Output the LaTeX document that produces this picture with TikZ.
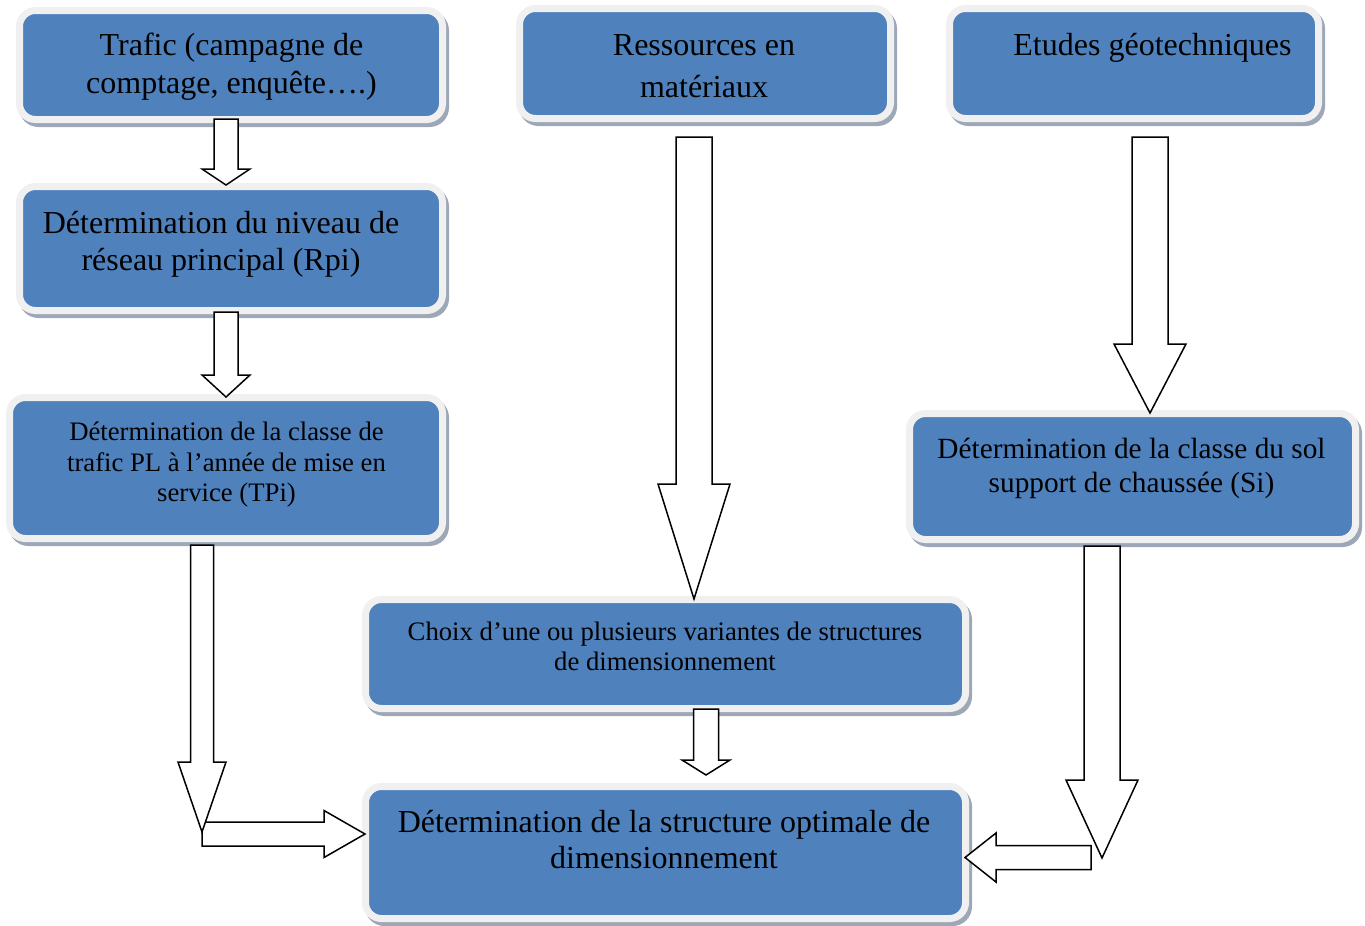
\documentclass[tikz,border=0pt]{standalone}
\usepackage{fontspec}
\setmainfont{Liberation Serif}
\usetikzlibrary{calc}
\definecolor{boxblue}{RGB}{79,129,189}
\definecolor{boxrim}{RGB}{240,240,240}
\definecolor{boxshadow}{RGB}{158,167,184}
\tikzset{
  box/.style={rectangle, rounded corners=16pt, fill=boxblue, draw=boxrim, line width=7pt, inner sep=0pt,
    preaction={draw=boxshadow, fill=boxshadow, line width=7pt, transform canvas={shift={(3pt,-4pt)}}}},
  blockarr/.style={draw=black, fill=white, line width=1.5pt, line join=miter},
  bigtxt/.style={font=\fontsize{32}{37}\selectfont, anchor=base, inner sep=0pt},
  midtxt/.style={font=\fontsize{29.3}{34}\selectfont, anchor=base, inner sep=0pt},
  smalltxt/.style={font=\fontsize{26.7}{31}\selectfont, anchor=base, inner sep=0pt}
}
\newcommand\vblockarrow[5]{% tail, tip, shaft half width, head half width, head length
  \draw[blockarr] let \p1=(#1), \p2=(#2) in
    ({\x2-#3},{\y1}) -- ({\x2+#3},{\y1}) -- ({\x2+#3},{\y2+#5}) -- ({\x2+#4},{\y2+#5}) -- (\x2,\y2)
    -- ({\x2-#4},{\y2+#5}) -- ({\x2-#3},{\y2+#5}) -- cycle;}
\newcommand\hblockarrow[5]{% tail, tip, shaft half width, head half width, signed head length
  \draw[blockarr] let \p1=(#1), \p2=(#2) in
    ({\x1},{\y2+#3}) -- ({\x2-#5},{\y2+#3}) -- ({\x2-#5},{\y2+#4}) -- (\x2,\y2)
    -- ({\x2-#5},{\y2-#4}) -- ({\x2-#5},{\y2-#3}) -- ({\x1},{\y2-#3}) -- cycle;}
\begin{document}
\begin{tikzpicture}[x=1pt,y=-1pt]
\useasboundingbox (0,0) rectangle (1365,926);
% boxes
\node[box, minimum width=423pt, minimum height=109pt] (trafic) at (231,65) {};
\node[box, minimum width=423pt, minimum height=124pt] (rpi) at (231,248.5) {};
\node[box, minimum width=433pt, minimum height=141pt] (tpi) at (226,468) {};
\node[box, minimum width=371pt, minimum height=110pt] (ress) at (705,63.5) {};
\node[box, minimum width=369pt, minimum height=110pt] (geo) at (1134,63.5) {};
\node[box, minimum width=446pt, minimum height=126pt] (sol) at (1132.5,476.5) {};
\node[box, minimum width=600pt, minimum height=109pt] (choix) at (665.5,654) {};
\node[box, minimum width=600pt, minimum height=132pt] (final) at (665.5,852.5) {};
% texts
\node[bigtxt] (t1a) at (231.5,55) {Trafic (campagne de};
\node[bigtxt] (t1b) at (231.5,93) {comptage, enquête….)};
\node[bigtxt] (t2a) at (221,233) {Détermination du niveau de};
\node[bigtxt] (t2b) at (221,270) {réseau principal (Rpi)};
\node[smalltxt] (t3a) at (226.5,440) {Détermination de la classe de};
\node[smalltxt] (t3b) at (226.5,471) {trafic PL à l’année de mise en};
\node[smalltxt] (t3c) at (226.5,501) {service (TPi)};
\node[bigtxt] (t4a) at (704,55) {Ressources en};
\node[bigtxt] (t4b) at (704,97) {matériaux};
\node[bigtxt] (t5a) at (1152.5,55) {Etudes géotechniques};
\node[midtxt] (t6a) at (1131.5,458) {Détermination de la classe du sol};
\node[midtxt] (t6b) at (1131.5,492) {support de chaussée (Si)};
\node[smalltxt] (t7a) at (665,640) {Choix d’une ou plusieurs variantes de structures};
\node[smalltxt] (t7b) at (665,670) {de dimensionnement};
\node[bigtxt] (t8a) at (664,832) {Détermination de la structure optimale de};
\node[bigtxt] (t8b) at (664,868) {dimensionnement};
% arrow end points
\coordinate (a1s) at (226,119);  \coordinate (a1e) at (226,185);
\coordinate (a2s) at (226,312);  \coordinate (a2e) at (226,397);
\coordinate (a3s) at (202,545);  \coordinate (a3e) at (202,832);
\coordinate (a4s) at (202,834);  \coordinate (a4e) at (365,834);
\coordinate (a5s) at (694,137);  \coordinate (a5e) at (694,599);
\coordinate (a6s) at (1150,137); \coordinate (a6e) at (1150,413);
\coordinate (a7s) at (1102,546); \coordinate (a7e) at (1102,858);
\coordinate (a8s) at (1091,858); \coordinate (a8e) at (965,857.5);
\coordinate (a9s) at (706,709);  \coordinate (a9e) at (706,775);
% arrows
\vblockarrow{a1s}{a1e}{12pt}{24pt}{16pt}
\vblockarrow{a2s}{a2e}{12pt}{24pt}{22pt}
\hblockarrow{a4s}{a4e}{12pt}{23.5pt}{41pt}
\vblockarrow{a3s}{a3e}{11.5pt}{24pt}{70pt}
\vblockarrow{a5s}{a5e}{18pt}{36pt}{115pt}
\vblockarrow{a6s}{a6e}{18pt}{36pt}{69pt}
\vblockarrow{a7s}{a7e}{18pt}{36pt}{78pt}
\hblockarrow{a8s}{a8e}{12pt}{24.5pt}{(-31pt)}
\vblockarrow{a9s}{a9e}{12.5pt}{24pt}{15pt}
\end{tikzpicture}
\end{document}
